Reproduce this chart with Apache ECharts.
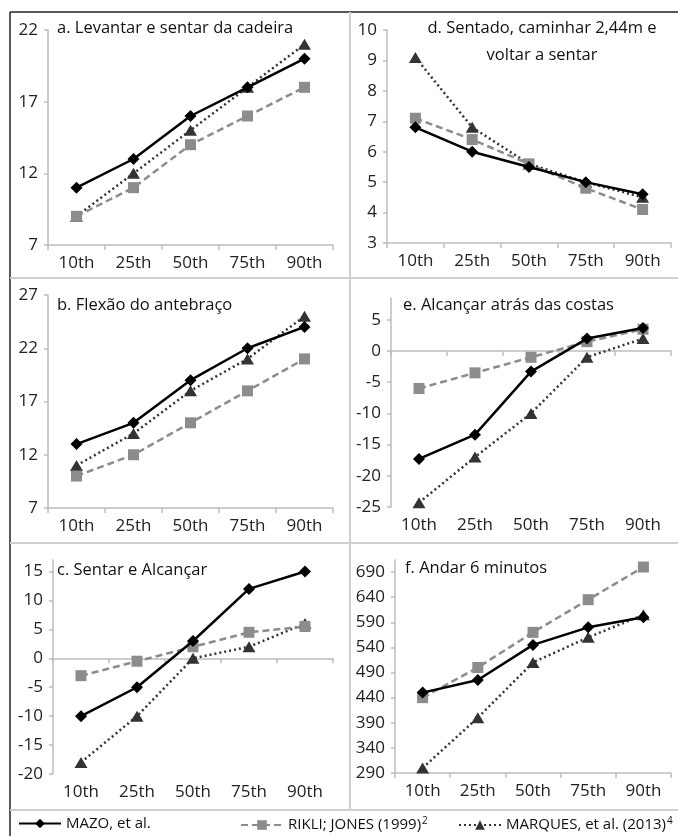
<!DOCTYPE html>
<html><head><meta charset="utf-8">
<script src="https://cdn.jsdelivr.net/npm/echarts@6/dist/echarts.min.js"></script>
<style>html,body{margin:0;padding:0;background:#fff}#c{width:678px;height:836px}</style>
</head><body><div id="c"></div>
<script>
// ---- data ----
const categories = ['10th', '25th', '50th', '75th', '90th'];
const seriesNames = ['MAZO, et al.', 'RIKLI; JONES (1999)', 'MARQUES, et al. (2013)'];
const seriesSup = ['', '2', '4'];

const titleA = 'a. Levantar e sentar da cadeira';
const titleB = 'b. Flexão do antebraço';
const titleC = 'c. Sentar e Alcançar';
const titleD = 'd. Sentado, caminhar 2,44m e\nvoltar a sentar';
const titleE = 'e. Alcançar atrás das costas';
const titleF = 'f. Andar 6 minutos';

const ticksA = [7, 12, 17, 22];
const ticksB = [7, 12, 17, 22, 27];
const ticksC = [-20, -15, -10, -5, 0, 5, 10, 15];
const ticksD = [3, 4, 5, 6, 7, 8, 9, 10];
const ticksE = [-25, -20, -15, -10, -5, 0, 5];
const ticksF = [290, 340, 390, 440, 490, 540, 590, 640, 690];

const mazoA = [11, 13, 16, 18, 20];
const rikliA = [9, 11, 14, 16, 18];
const marquesA = [9, 12, 15, 18, 21];

const mazoB = [13, 15, 19, 22, 24];
const rikliB = [10, 12, 15, 18, 21];
const marquesB = [11, 14, 18, 21, 25];

const mazoC = [-10, -5, 3, 12, 15];
const rikliC = [-3, -0.5, 2, 4.5, 5.5];
const marquesC = [-18, -10, 0, 2, 6];

const mazoD = [6.8, 6.0, 5.5, 5.0, 4.6];
const rikliD = [7.1, 6.4, 5.6, 4.8, 4.1];
const marquesD = [9.1, 6.8, 5.6, 5.0, 4.5];

const mazoE = [-17.3, -13.4, -3.3, 2, 3.7];
const rikliE = [-6, -3.5, -1, 1.5, 3.5];
const marquesE = [-24.3, -17, -10, -1, 2];

const mazoF = [450, 475, 545, 580, 600];
const rikliF = [440, 500, 570, 635, 700];
const marquesF = [300, 400, 510, 560, 605];

// ---- layout / style ----
const FONT = 'Open Sans';
const axisGray = '#bdbdbd';
const panels = [
  {grid: {left: 48, top: 30, width: 285, height: 215}, min: 7, max: 22, ticks: ticksA, data: [mazoA, rikliA, marquesA], title: titleA, tx: 57, ty: 28, align: 'left'},
  {grid: {left: 387, top: 30, width: 284, height: 213}, min: 3, max: 10, ticks: ticksD, data: [mazoD, rikliD, marquesD], title: titleD, tx: 542, ty: 42, align: 'center'},
  {grid: {left: 48, top: 295, width: 285, height: 213}, min: 7, max: 27, ticks: ticksB, data: [mazoB, rikliB, marquesB], title: titleB, tx: 57, ty: 305, align: 'left'},
  {grid: {left: 391, top: 298, width: 280, height: 209}, min: -25, max: 8.5, ticks: ticksE, data: [mazoE, rikliE, marquesE], title: titleE, tx: 403, ty: 305, align: 'left'},
  {grid: {left: 53, top: 560, width: 280, height: 214}, min: -20, max: 17, ticks: ticksC, data: [mazoC, rikliC, marquesC], title: titleC, tx: 57, ty: 570, align: 'left'},
  {grid: {left: 395, top: 560, width: 276, height: 213}, min: 290, max: 714, ticks: ticksF, data: [mazoF, rikliF, marquesF], title: titleF, tx: 405, ty: 568, align: 'left'}
];

const seriesStyles = [
  {color: '#000000', lineType: 'solid', symbol: 'diamond', symbolSize: [12, 12], width: 2.5},
  {color: '#8c8c8c', lineType: [7, 4], symbol: 'rect', symbolSize: 11, width: 2.5},
  {color: '#333333', lineType: [2, 3], symbol: 'triangle', symbolSize: [13, 11], width: 2.5}
];

const grids = [], xAxes = [], yAxes = [], series = [], graphics = [];
panels.forEach((p, i) => {
  grids.push(Object.assign({containLabel: false}, p.grid));
  xAxes.push({
    type: 'category', gridIndex: i, data: categories, boundaryGap: true,
    axisLine: {lineStyle: {color: axisGray, width: 1.5}},
    axisTick: {show: true, alignWithLabel: false, length: 5, lineStyle: {color: axisGray, width: 1.5}},
    axisLabel: {fontFamily: FONT, fontSize: 17, color: '#222', margin: 10}
  });
  yAxes.push({
    type: 'value', gridIndex: i, min: p.min, max: p.max,
    splitLine: {show: false},
    axisLine: {show: true, lineStyle: {color: axisGray, width: 1.5}},
    axisTick: {show: true, length: 4, customValues: p.ticks, lineStyle: {color: axisGray, width: 1.5}},
    axisLabel: {fontFamily: FONT, fontSize: 17, color: '#222', margin: 10, customValues: p.ticks}
  });
  p.data.forEach((d, k) => {
    const s = seriesStyles[k];
    series.push({
      type: 'line', name: seriesNames[k], xAxisIndex: i, yAxisIndex: i, data: d,
      symbol: s.symbol, symbolSize: s.symbolSize, showAllSymbol: true,
      lineStyle: {color: s.color, type: s.lineType, width: s.width},
      itemStyle: {color: s.color},
      z: 3 - k, animation: false
    });
  });
  graphics.push({
    type: 'text', x: p.tx, y: p.ty, z: 10,
    style: {text: p.title, fontFamily: FONT, fontSize: 16.5, fill: '#111', align: p.align, verticalAlign: 'middle', lineHeight: 27}
  });
});

// frame and dividers
const lineG = (x1, y1, x2, y2, color, w) => ({type: 'line', shape: {x1, y1, x2, y2}, style: {stroke: color, lineWidth: w}, z: 1});
graphics.push(lineG(10, 12, 678, 12, '#222', 1.5));
graphics.push(lineG(10, 12, 10, 836, '#222', 1.5));
graphics.push(lineG(350, 12, 350, 810, '#cfcfcf', 2));
graphics.push(lineG(10, 278, 678, 278, '#cfcfcf', 2));
graphics.push(lineG(10, 543, 678, 543, '#cfcfcf', 2));
graphics.push(lineG(10, 810, 678, 810, '#cfcfcf', 2));

const legendLefts = [18, 240, 458];
const legends = seriesNames.map((n, k) => ({
  data: [n], left: legendLefts[k], top: 816, itemWidth: 42, itemHeight: 12, itemGap: 4, padding: 0,
  formatter: name => '{n|' + name + '}' + (seriesSup[k] ? '{s|' + seriesSup[k] + '}' : ''),
  textStyle: {
    fontFamily: FONT, fontSize: 15, color: '#111',
    rich: {n: {fontFamily: FONT, fontSize: 15, color: '#111'}, s: {fontFamily: FONT, fontSize: 10, color: '#111', verticalAlign: 'top', padding: [0, 0, 8, 1]}}
  },
  selectedMode: false
}));

const chart = echarts.init(document.getElementById('c'), null, {renderer: 'canvas'});
chart.setOption({
  backgroundColor: '#fff',
  animation: false,
  grid: grids, xAxis: xAxes, yAxis: yAxes, series: series,
  legend: legends,
  graphic: graphics
});
</script></body></html>
